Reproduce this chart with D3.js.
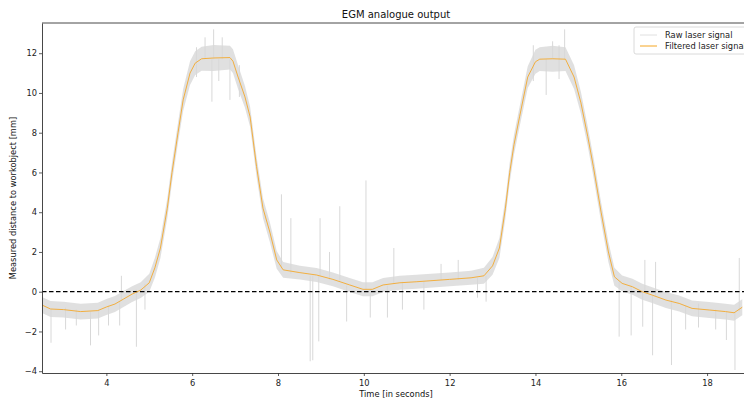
<!DOCTYPE html>
<html>
<head>
<script src="https://d3js.org/d3.v7.min.js"></script>
<style>
  body { margin: 0; background: white; }
  text { font-family: "DejaVu Sans", sans-serif; }
</style>
</head>
<body>
<div id="chart"></div>
<script>
// filtered signal (time in s, distance in mm)
var times = [2.5, 2.7, 3.0, 3.4, 3.8, 4.0, 4.2, 4.4, 4.6, 4.8, 5.0, 5.13, 5.26, 5.42, 5.53, 5.67, 5.79, 5.95, 6.07, 6.22,
             6.5, 6.88, 6.95, 7.07, 7.23, 7.35, 7.5, 7.65, 7.81, 7.97, 8.12, 8.51, 8.9, 9.28, 9.67, 9.98, 10.2, 10.45, 10.84,
             11.22, 12.0, 12.5, 12.8, 13.0, 13.16, 13.3, 13.4, 13.5, 13.63, 13.82, 14.0, 14.1, 14.4, 14.7, 14.9, 15.06, 15.22,
             15.35, 15.53, 15.7, 15.84, 16.02, 16.26, 16.49, 16.72, 17.04, 17.35, 17.65, 18.05, 18.43, 18.63, 18.82];
var filtered = [-0.67, -0.87, -0.9, -1.0, -0.95, -0.77, -0.62, -0.37, -0.12, 0.08, 0.45, 1.2, 2.2, 4.2, 6.0, 8.0, 9.65, 11.0, 11.5, 11.72,
                11.76, 11.78, 11.6, 10.8, 9.8, 8.8, 6.3, 4.2, 3.0, 1.6, 1.1, 0.96, 0.84, 0.62, 0.34, 0.12, 0.12, 0.34, 0.45,
                0.5, 0.62, 0.7, 0.8, 1.3, 2.2, 4.2, 6.0, 7.4, 8.8, 10.8, 11.57, 11.7, 11.72, 11.7, 10.8, 9.5, 7.8,
                6.29, 4.0, 2.0, 0.75, 0.42, 0.25, 0.0, -0.17, -0.42, -0.59, -0.84, -0.92, -1.0, -1.06, -0.78];
// half width of the raw noise band around the filtered signal
var rawSpread = [0.4, 0.4, 0.4, 0.4, 0.4, 0.4, 0.4, 0.4, 0.4, 0.4, 0.45, 0.5, 0.5, 0.5, 0.5, 0.5, 0.55, 0.6, 0.6, 0.6,
                 0.65, 0.6, 0.6, 0.6, 0.55, 0.5, 0.5, 0.5, 0.5, 0.45, 0.4, 0.35, 0.35, 0.35, 0.35, 0.35, 0.35, 0.35, 0.35,
                 0.35, 0.35, 0.35, 0.4, 0.45, 0.5, 0.5, 0.5, 0.5, 0.5, 0.55, 0.6, 0.6, 0.65, 0.6, 0.6, 0.55, 0.5,
                 0.5, 0.5, 0.5, 0.45, 0.4, 0.4, 0.4, 0.4, 0.4, 0.4, 0.4, 0.4, 0.4, 0.4, 0.4];
// isolated spikes of the raw signal: [time, low, high]
var spikes = [[2.71, -2.57, -0.9], [3.05, -1.9, -0.8], [3.63, -2.7, -1.0], [3.82, -2.2, -0.9], [4.05, -1.7, -0.7],
              [4.31, -1.7, -0.5], [4.35, -0.4, 0.8], [4.7, -2.77, 0.1], [4.9, -0.9, 0.4], [3.3, -1.7, -0.9],
              [6.1, 10.8, 12.3], [6.3, 11.7, 12.8], [6.46, 9.56, 11.7], [6.5, 11.7, 13.2], [6.62, 10.6, 11.7],
              [6.7, 11.7, 12.8], [6.88, 9.65, 11.7], [7.1, 9.8, 11.4], [8.08, 1.2, 4.9], [8.3, 0.9, 3.7], [8.75, -3.5, 0.8],
              [8.81, -3.45, 0.8], [8.95, -2.5, 0.8], [8.98, 0.8, 3.7], [9.2, 0.6, 2.0], [9.44, 0.5, 4.3],
              [9.6, -1.5, 0.3], [10.05, 0.1, 5.6], [10.15, -1.3, 0.1], [10.55, -1.3, 0.3], [10.7, 0.4, 2.2],
              [10.9, -0.9, 0.5], [11.4, -0.9, 0.5], [11.8, 0.6, 1.4], [12.2, 0.6, 1.6], [12.65, -0.3, 0.7], [12.85, -0.5, 0.8],
              [13.95, 10.6, 12.4], [14.25, 9.9, 11.7], [14.4, 11.7, 12.6], [14.55, 10.7, 12.4], [14.68, 11.7, 13.2],
              [15.95, -2.26, 0.5], [16.23, -2.2, 0.3],
              [16.5, -1.76, 0.0], [16.55, 0.0, 1.6], [16.73, -3.2, -0.2], [16.8, -0.2, 1.5], [17.17, -3.69, -0.4],
              [17.5, -1.9, -0.7], [17.8, -1.8, -0.6], [18.2, -1.9, -0.9], [18.45, -2.43, -1.0], [18.65, -3.94, -1.0],
              [18.75, -1.0, 1.7]];
var xTicks = [4, 6, 8, 10, 12, 14, 16, 18];
var yTicks = [-4, -2, 0, 2, 4, 6, 8, 10, 12];
var legendLabels = ["Raw laser signal", "Filtered laser signal"];

var W = 744, H = 401;
var mLeft = 42, mRight = 750, mTop = 23, mBottom = 373;

var svg = d3.select("#chart").append("svg")
  .attr("width", W).attr("height", H);

var x = d3.scaleLinear().domain([2.5, 19.0]).range([mLeft, mRight]);
var y = d3.scaleLinear().domain([-4.09, 13.52]).range([mBottom, mTop]);

var pts = times.map(function(t, i) { return {t: t, f: filtered[i], s: rawSpread[i]}; });

var plot = svg.append("g");

// raw signal band
plot.append("path")
  .datum(pts)
  .attr("fill", "#d8d8d8")
  .attr("fill-opacity", 0.8)
  .attr("d", d3.area()
    .x(function(d) { return x(d.t); })
    .y0(function(d) { return y(d.f - d.s); })
    .y1(function(d) { return y(d.f + d.s); }));

// raw spikes
plot.selectAll("line.spike").data(spikes).enter().append("line")
  .attr("class", "spike")
  .attr("x1", function(d) { return x(d[0]); })
  .attr("x2", function(d) { return x(d[0]); })
  .attr("y1", function(d) { return y(d[1]); })
  .attr("y2", function(d) { return y(d[2]); })
  .attr("stroke", "#d8d8d8")
  .attr("stroke-width", 1);

// zero reference
plot.append("line")
  .attr("x1", mLeft).attr("x2", mRight)
  .attr("y1", y(0)).attr("y2", y(0))
  .attr("stroke", "black")
  .attr("stroke-width", 1.3)
  .attr("stroke-dasharray", "4.5,2.5");

// filtered signal
plot.append("path")
  .datum(pts)
  .attr("fill", "none")
  .attr("stroke", "#f5a623")
  .attr("stroke-opacity", 0.85)
  .attr("stroke-width", 1)
  .attr("d", d3.line()
    .x(function(d) { return x(d.t); })
    .y(function(d) { return y(d.f); }));

// axes
var xAxis = svg.append("g")
  .attr("transform", "translate(0," + mBottom + ")")
  .call(d3.axisBottom(x).tickValues(xTicks).tickFormat(d3.format("d")).tickSize(3).tickSizeOuter(0));
var yAxis = svg.append("g")
  .attr("transform", "translate(" + mLeft + ",0)")
  .call(d3.axisLeft(y).tickValues(yTicks).tickFormat(function(d) { return d < 0 ? "\u2212" + Math.abs(d) : d; })
    .tickSize(3).tickSizeOuter(0));
[xAxis, yAxis].forEach(function(a) {
  a.select(".domain").attr("stroke", "#333").attr("stroke-width", 0.9);
  a.selectAll(".tick line").attr("stroke", "#333").attr("stroke-width", 0.8);
  a.selectAll(".tick text").attr("font-size", "8.3px").attr("fill", "#222")
    .attr("font-family", "DejaVu Sans, sans-serif");
});
xAxis.selectAll(".tick text").attr("dy", "0.9em");
yAxis.selectAll(".tick text").attr("x", -5);

// top spine
svg.append("line")
  .attr("x1", mLeft).attr("x2", mRight)
  .attr("y1", mTop).attr("y2", mTop)
  .attr("stroke", "#333").attr("stroke-width", 0.9);

// titles
svg.append("text")
  .attr("x", (mLeft + mRight) / 2).attr("y", 18)
  .attr("text-anchor", "middle")
  .attr("font-size", "10px").attr("fill", "#111")
  .text("EGM analogue output");
svg.append("text")
  .attr("x", (mLeft + mRight) / 2).attr("y", 397)
  .attr("text-anchor", "middle")
  .attr("font-size", "8.3px").attr("fill", "#111")
  .text("Time [in seconds]");
svg.append("text")
  .attr("transform", "translate(16," + (mTop + mBottom) / 2 + ") rotate(-90)")
  .attr("text-anchor", "middle")
  .attr("font-size", "8.3px").attr("fill", "#111")
  .text("Measured distance to workobject [mm]");

// legend
var lg = svg.append("g").attr("transform", "translate(634,27)");
lg.append("rect")
  .attr("width", 112).attr("height", 27).attr("rx", 2)
  .attr("fill", "white").attr("fill-opacity", 0.85)
  .attr("stroke", "#d0d0d0").attr("stroke-width", 0.8);
var legendColors = ["#e0e0e0", "#f5a623"];
legendLabels.forEach(function(l, i) {
  lg.append("line")
    .attr("x1", 6).attr("x2", 23)
    .attr("y1", 8 + i * 11).attr("y2", 8 + i * 11)
    .attr("stroke", legendColors[i]).attr("stroke-width", 1);
  lg.append("text")
    .attr("x", 31).attr("y", 11 + i * 11)
    .attr("font-size", "8.3px").attr("fill", "#222")
    .text(l);
});
</script>
</body>
</html>
